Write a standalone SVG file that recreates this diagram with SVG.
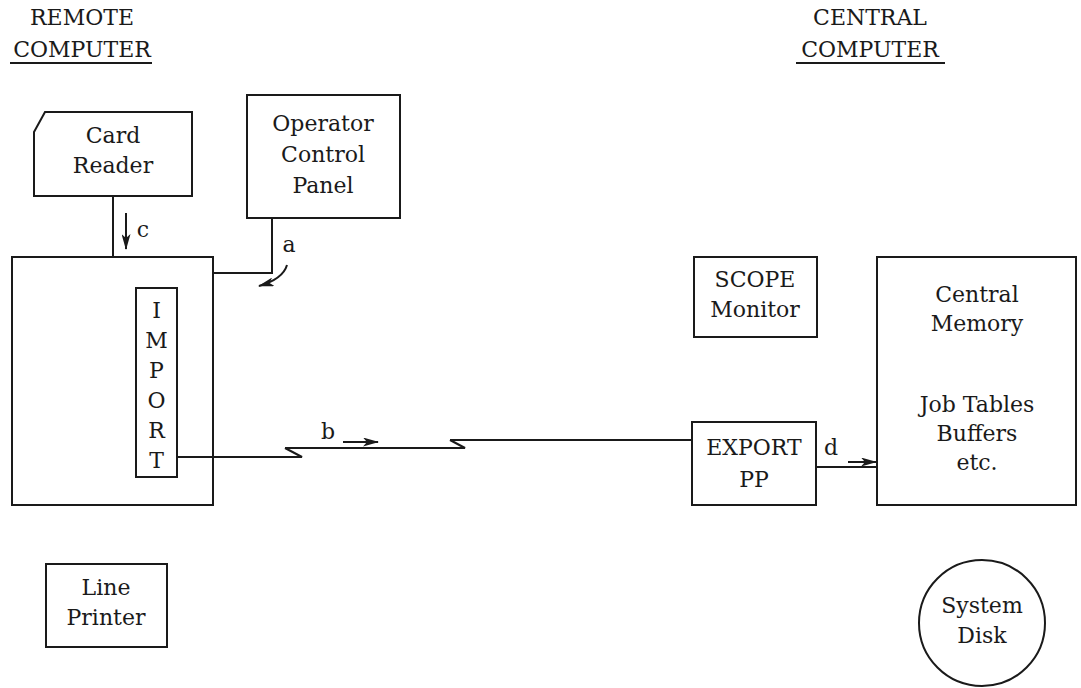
<svg xmlns="http://www.w3.org/2000/svg" width="1081" height="688" viewBox="0 0 1081 688">
<style>
text{font-family:"DejaVu Serif","Liberation Serif",serif;font-size:22px;fill:#1a1a1a;text-anchor:middle}
.box{fill:none;stroke:#1a1a1a;stroke-width:2}
.ln{fill:none;stroke:#1a1a1a;stroke-width:2}
</style>
<defs>
<marker id="ah" viewBox="0 0 16 9" refX="15" refY="4.5" markerWidth="16" markerHeight="9" markerUnits="userSpaceOnUse" orient="auto"><path d="M0,0 L16,4.5 L0,9 L4,4.5 z" fill="#1a1a1a"/></marker>
</defs>
<g id="title-remote"><text x="82" y="25">REMOTE</text><text x="82" y="57">COMPUTER</text><line class="ln" x1="10" y1="63" x2="152" y2="63"/></g>
<g id="title-central"><text x="870" y="25">CENTRAL</text><text x="870" y="57">COMPUTER</text><line class="ln" x1="796" y1="63" x2="945" y2="63"/></g>
<g id="card-reader"><path class="box" d="M45,112 L192,112 L192,196 L34,196 L34,132 Z"/><text x="113" y="143">Card</text><text x="113" y="173">Reader</text></g>
<g id="operator-panel"><rect class="box" x="247" y="95" width="153" height="123"/><text x="323" y="131">Operator</text><text x="323" y="162">Control</text><text x="323" y="193">Panel</text></g>
<g id="remote-computer"><rect class="box" x="12" y="257" width="201" height="248"/></g>
<g id="import"><rect class="box" x="136" y="288" width="41" height="189" stroke-width="2.5"/><text x="156.5" y="318">I</text><text x="156.5" y="348">M</text><text x="156.5" y="378">P</text><text x="156.5" y="408">O</text><text x="156.5" y="438">R</text><text x="156.5" y="468">T</text></g>
<g id="scope-monitor"><rect class="box" x="694" y="257" width="123" height="80"/><text x="755" y="287">SCOPE</text><text x="755" y="317">Monitor</text></g>
<g id="export-pp"><rect class="box" x="692" y="422" width="124" height="83"/><text x="754" y="455">EXPORT</text><text x="754" y="487">PP</text></g>
<g id="central-memory"><rect class="box" x="877" y="257" width="199" height="248"/><text x="977" y="302">Central</text><text x="977" y="331">Memory</text><text x="977" y="412">Job Tables</text><text x="977" y="441">Buffers</text><text x="977" y="470">etc.</text></g>
<g id="line-printer"><rect class="box" x="46" y="564" width="121" height="83"/><text x="106" y="595">Line</text><text x="106" y="625">Printer</text></g>
<g id="system-disk"><circle class="box" cx="982" cy="623" r="63"/><text x="982" y="613">System</text><text x="982" y="643">Disk</text></g>
<g id="connectors">
<line class="ln" x1="113" y1="196" x2="113" y2="257"/>
<line class="ln" x1="126" y1="213" x2="126" y2="249" stroke-width="2.5" marker-end="url(#ah)"/>
<text x="143" y="237">c</text>
<polyline class="ln" points="272,218 272,273 213,273"/>
<text x="289" y="252">a</text>
<path class="ln" d="M287,265 Q283,279 259,286" stroke-width="2.5" marker-end="url(#ah)"/>
<polyline class="ln" points="177,457 302,457 285,448" stroke-width="3"/>
<polyline class="ln" points="285,448 465,448 450,440" stroke-width="2.5"/>
<line class="ln" x1="450" y1="440" x2="692" y2="440"/>
<line class="ln" x1="343" y1="442" x2="378" y2="442" stroke-width="2.5" marker-end="url(#ah)"/>
<text x="328" y="439">b</text>
<line class="ln" x1="816" y1="467" x2="877" y2="467"/>
<line class="ln" x1="848" y1="462" x2="876" y2="462" stroke-width="2.5" marker-end="url(#ah)"/>
<text x="831" y="455">d</text>
</g>
</svg>
